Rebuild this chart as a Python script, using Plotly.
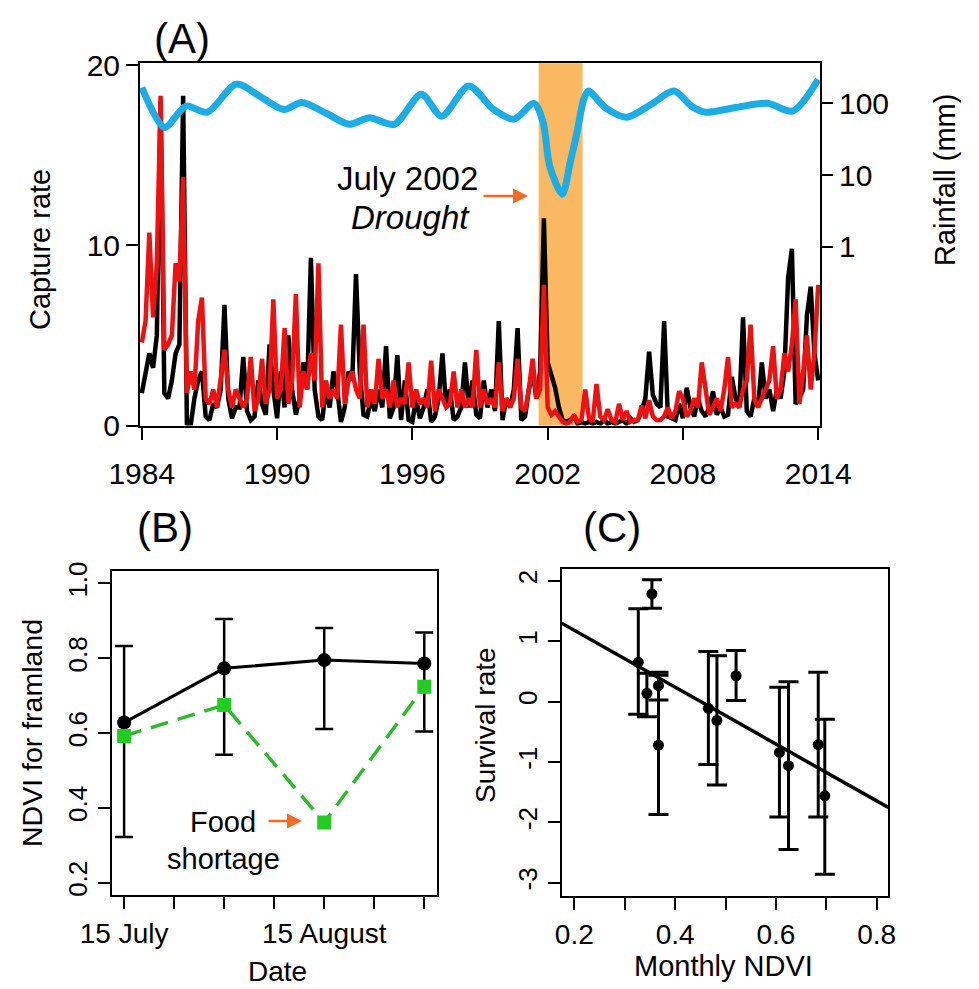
import plotly.graph_objects as go
import numpy as np

# ---------------- DATA ----------------
# Panel A: capture rate, bimonthly samples per year (Jan, Mar, May, Jul, Sep, Nov)
start_year = 1984
observed_by_year = [
    [1.8, 3.0, 4.0, 3.2, 5.0, 18.0],   # 1984
    [1.8, 1.5, 2.5, 4.0, 4.5, 18.3],   # 1985
    [0.1, 0.0, 1.5, 2.5, 3.0, 0.5],    # 1986
    [0.3, 1.2, 1.0, 2.0, 6.7, 1.5],    # 1987
    [0.4, 1.0, 1.0, 3.8, 0.8, 0.3],    # 1988
    [0.5, 2.5, 1.2, 0.6, 4.5, 2.0],    # 1989
    [0.4, 3.0, 1.0, 5.0, 2.0, 0.6],    # 1990
    [1.5, 3.5, 2.0, 9.3, 2.0, 0.5],    # 1991
    [0.3, 2.0, 1.0, 3.0, 2.0, 0.2],    # 1992
    [1.0, 3.0, 2.5, 8.4, 3.0, 0.6],    # 1993
    [0.5, 1.5, 0.8, 2.0, 1.0, 4.4],    # 1994
    [0.4, 1.0, 3.9, 0.3, 2.5, 0.3],    # 1995
    [0.2, 1.5, 0.4, 1.0, 2.0, 0.2],    # 1996
    [0.5, 1.5, 4.0, 1.0, 2.0, 0.3],    # 1997
    [0.5, 1.0, 3.5, 1.0, 2.5, 0.6],    # 1998
    [0.4, 2.5, 1.0, 2.0, 0.8, 5.8],    # 1999
    [0.3, 1.5, 1.0, 2.0, 5.4, 0.3],    # 2000
    [0.5, 2.0, 3.0, 1.5, 3.0, 11.5],   # 2001
    [3.5, 2.8, 2.1, 1.0, 0.3, 0.2],    # 2002
    [0.3, 0.5, 0.1, 0.2, 0.1, 0.2],    # 2003
    [0.1, 0.2, 0.1, 0.3, 0.1, 0.2],    # 2004
    [0.1, 0.2, 0.3, 0.1, 0.4, 0.2],    # 2005
    [0.3, 0.8, 1.5, 4.1, 1.7, 1.2],    # 2006
    [1.0, 5.8, 0.5, 0.4, 0.3, 1.2],    # 2007
    [0.4, 2.1, 1.0, 0.5, 1.5, 0.8],    # 2008
    [0.5, 1.0, 1.9, 0.6, 1.0, 0.5],    # 2009
    [0.6, 2.7, 1.5, 1.0, 6.0, 0.8],    # 2010
    [0.5, 1.5, 1.0, 3.5, 1.5, 2.0],    # 2011
    [0.8, 2.0, 1.5, 3.0, 8.2, 9.8],    # 2012
    [1.2, 1.5, 2.0, 6.1, 7.7, 4.0],    # 2013
    [2.5],                             # 2014
]
predicted_by_year = [
    [4.6, 5.8, 10.7, 6.0, 9.0, 18.3],  # 1984
    [4.2, 4.5, 5.0, 9.0, 8.0, 13.8],   # 1985
    [1.8, 3.0, 2.0, 5.8, 7.1, 1.5],    # 1986
    [1.2, 2.0, 1.0, 2.5, 4.2, 2.0],    # 1987
    [1.0, 2.0, 1.5, 1.0, 1.5, 3.8],    # 1988
    [0.8, 1.5, 3.7, 1.2, 2.0, 7.0],    # 1989
    [1.5, 2.0, 5.4, 1.2, 2.5, 7.3],    # 1990
    [1.0, 3.0, 2.0, 4.0, 2.5, 9.0],    # 1991
    [1.0, 2.5, 1.5, 2.0, 1.5, 5.6],    # 1992
    [1.2, 2.5, 3.0, 2.0, 1.5, 5.6],    # 1993
    [1.0, 2.0, 1.2, 3.7, 1.5, 2.0],    # 1994
    [1.0, 2.5, 1.0, 1.5, 1.2, 3.5],    # 1995
    [1.0, 2.0, 1.2, 1.5, 1.0, 3.6],    # 1996
    [0.8, 2.0, 1.5, 1.0, 1.2, 3.0],    # 1997
    [1.0, 2.0, 1.0, 1.5, 1.0, 4.2],    # 1998
    [1.0, 2.0, 1.2, 1.5, 1.0, 3.5],    # 1999
    [0.8, 1.5, 1.0, 1.5, 3.7, 1.0],    # 2000
    [0.8, 2.0, 3.7, 1.5, 2.0, 7.8],    # 2001
    [1.0, 0.6, 0.8, 0.5, 0.2, 0.1],    # 2002
    [0.2, 0.6, 0.2, 0.3, 2.0, 0.4],    # 2003
    [0.2, 2.3, 0.5, 0.3, 0.9, 0.3],    # 2004
    [0.2, 1.2, 0.3, 0.8, 0.2, 0.3],    # 2005
    [0.3, 1.1, 0.4, 1.4, 0.5, 0.3],    # 2006
    [0.3, 0.5, 1.0, 0.4, 0.8, 1.9],    # 2007
    [1.5, 0.5, 0.8, 1.5, 1.0, 3.5],    # 2008
    [2.0, 0.6, 1.0, 1.5, 0.8, 2.0],    # 2009
    [3.8, 1.0, 1.2, 1.0, 2.0, 2.5],    # 2010
    [5.6, 1.5, 1.0, 1.5, 2.0, 2.5],    # 2011
    [4.4, 1.5, 2.0, 4.0, 3.0, 4.5],    # 2012
    [7.0, 1.2, 3.0, 5.0, 2.0, 4.0],    # 2013
    [7.8],                             # 2014
]
rain_years = [1984.0, 1985.0, 1985.7, 1986.0, 1986.9, 1988.2, 1989.3, 1990.3,
              1991.1, 1992.2, 1993.2, 1994.1, 1995.2, 1996.4, 1997.3, 1998.5,
              1999.6, 2000.5, 2001.4, 2001.8, 2002.1, 2002.65, 2003.0, 2003.3,
              2003.6, 2003.8, 2004.6, 2005.5, 2006.6, 2007.6, 2008.4, 2009.0,
              2010.4, 2011.75, 2012.87, 2014.0]
rain_mm = [166, 46, 78, 92, 75, 185, 121, 82,
           103, 72, 51, 63, 51, 134, 66, 175,
           82, 60, 100, 54, 13, 5.4, 15, 39,
           113, 148, 85, 64, 97, 148, 90, 75,
           88, 100, 78, 215]
drought_start, drought_end = 2001.6, 2003.55
year_ticks = [1984, 1990, 1996, 2002, 2008, 2014]

# Panel B: NDVI for farmland
b_dates = [1, 2, 3, 4]
b_tick_vals = [1, 1.5, 2, 2.5, 3, 3.5, 4]
b_tick_text = ["15 July", "", "", "", "15 August", "", ""]
ndvi_mean = [0.628, 0.773, 0.795, 0.786]
ndvi_upper = [0.833, 0.905, 0.881, 0.869]
ndvi_lower = [0.322, 0.542, 0.611, 0.604]
ndvi_2002 = [0.592, 0.675, 0.361, 0.724]

# Panel C: survival rate vs monthly NDVI
c_ndvi = [0.327, 0.354, 0.344, 0.367, 0.367, 0.466, 0.483, 0.521, 0.607, 0.625, 0.684, 0.697]
c_surv = [0.653, 1.786, 0.139, 0.265, -0.72, -0.11, -0.31, 0.43, -0.84, -1.06, -0.71, -1.56]
c_upper = [1.54, 2.02, 0.47, 0.49, 0.44, 0.83, 0.76, 0.85, 0.24, 0.33, 0.49, -0.29]
c_lower = [-0.21, 1.55, -0.25, 0.03, -1.87, -1.04, -1.38, 0.02, -1.91, -2.45, -1.91, -2.86]
c_yticks = [-3, -2, -1, 0, 1, 2]
fit_intercept, fit_slope = 2.124, -4.71

# ---------------- BUILD ----------------
W, H = 979, 989
def fx(p): return p / W
def fy(p): return 1 - p / H

FONT = "Liberation Sans, Arial, sans-serif"
observed = [v for yr in observed_by_year for v in yr]
predicted = [v for yr in predicted_by_year for v in yr]
t_obs = [start_year + i / 6 for i in range(len(observed))]
t_pred = [start_year + i / 6 for i in range(len(predicted))]

fig = go.Figure()

# Panel A
fig.add_trace(go.Scatter(x=t_obs, y=observed, mode="lines",
                         line=dict(color="black", width=4.5), xaxis="x", yaxis="y"))
fig.add_trace(go.Scatter(x=t_pred, y=predicted, mode="lines",
                         line=dict(color="#ee1111", width=4.5), xaxis="x", yaxis="y"))
fig.add_trace(go.Scatter(x=rain_years, y=rain_mm, mode="lines",
                         line=dict(color="#1badE4", width=7, shape="spline", smoothing=0.8),
                         xaxis="x", yaxis="y2"))

# Panel B
err_plus = [u - m for u, m in zip(ndvi_upper, ndvi_mean)]
err_minus = [m - l for m, l in zip(ndvi_mean, ndvi_lower)]
fig.add_trace(go.Scatter(x=b_dates, y=ndvi_mean, mode="lines+markers",
                         line=dict(color="black", width=3),
                         marker=dict(color="black", size=14, symbol="circle"),
                         error_y=dict(type="data", array=err_plus, arrayminus=err_minus,
                                      color="black", thickness=2.5, width=9),
                         xaxis="x2", yaxis="y3"))
fig.add_trace(go.Scatter(x=b_dates, y=ndvi_2002, mode="lines+markers",
                         line=dict(color="#2dbb2d", width=3.5, dash="18px,10px"),
                         marker=dict(color="#22cc22", size=14, symbol="square"),
                         xaxis="x2", yaxis="y3"))

# Panel C
c_plus = [u - m for u, m in zip(c_upper, c_surv)]
c_minus = [m - l for m, l in zip(c_surv, c_lower)]
fig.add_trace(go.Scatter(x=c_ndvi, y=c_surv, mode="markers",
                         marker=dict(color="black", size=11),
                         error_y=dict(type="data", array=c_plus, arrayminus=c_minus,
                                      color="black", thickness=3, width=10),
                         xaxis="x3", yaxis="y4"))
cx_range = [0.175, 0.823]
fit_x = np.array(cx_range)
fig.add_trace(go.Scatter(x=fit_x, y=fit_intercept + fit_slope * fit_x, mode="lines",
                         line=dict(color="black", width=3.5), xaxis="x3", yaxis="y4"))

axis_common = dict(showline=True, linecolor="black", linewidth=2, mirror=True,
                   ticks="outside", ticklen=12, tickwidth=2, tickcolor="black",
                   showgrid=False, zeroline=False, automargin=False)

fig.update_layout(
    template="none",
    width=W, height=H, margin=dict(l=0, r=0, t=0, b=0, pad=0), autosize=False,
    paper_bgcolor="white", plot_bgcolor="white", showlegend=False,
    font=dict(family=FONT, color="black", size=28),
    xaxis=dict(domain=[fx(140), fx(820)], anchor="y", range=[1983.92, 2014.08],
               tickvals=year_ticks, tickfont=dict(size=30), ticklabelstandoff=8,
               **axis_common),
    yaxis=dict(domain=[fy(425.5), fy(63.3)], anchor="x", range=[0, 20.1],
               tickvals=[0, 10, 20], tickfont=dict(size=30), **axis_common),
    yaxis2=dict(overlaying="y", side="right", anchor="x", type="log",
                range=[-2.494, 2.558], tickvals=[1, 10, 100], ticktext=["1", "10", "100"],
                showline=False, ticks="outside", ticklen=12, tickwidth=2, tickcolor="black",
                showgrid=False, zeroline=False, automargin=False, tickfont=dict(size=30)),
    xaxis2=dict(domain=[fx(111.7), fx(436.7)], anchor="y3", range=[0.876, 4.124],
                tickvals=b_tick_vals, ticktext=b_tick_text, tickfont=dict(size=28),
                **axis_common),
    yaxis3=dict(domain=[fy(895), fy(570.7)], anchor="x2", range=[0.167, 1.034],
                tickvals=[0.2, 0.4, 0.6, 0.8, 1.0], ticktext=["0.2", "0.4", "0.6", "0.8", "1.0"],
                tickangle=-90, tickfont=dict(size=26), **axis_common),
    xaxis3=dict(domain=[fx(561.7), fx(888.3)], anchor="y4", range=cx_range,
                tickvals=[0.2, 0.3, 0.4, 0.5, 0.6, 0.7, 0.8],
                ticktext=["0.2", "", "0.4", "", "0.6", "", "0.8"],
                tickfont=dict(size=28), **axis_common),
    yaxis4=dict(domain=[fy(896), fy(569.3)], anchor="x3", range=[-3.22, 2.194],
                tickvals=c_yticks, ticktext=[str(v) for v in c_yticks],
                tickangle=-90, tickfont=dict(size=26), **axis_common),
)

fig.add_shape(type="rect", xref="x", yref="y domain", x0=drought_start, x1=drought_end,
              y0=0, y1=1, fillcolor="#f9b861", line=dict(width=0), layer="below")

ann = []
def txt(x, y, s, size=28, angle=0, **kw):
    ann.append(dict(x=fx(x), y=fy(y), xref="paper", yref="paper", text=s, showarrow=False,
                    textangle=angle, font=dict(size=size, family=FONT, color="black"),
                    xanchor="center", yanchor="middle", **kw))

txt(182, 38, "(A)", size=42)
txt(165, 527, "(B)", size=42)
txt(612, 527, "(C)", size=42)
txt(40, 250, "Capture rate", angle=-90, size=29)
txt(945, 180, "Rainfall (mm)", angle=-90, size=29)
txt(407, 178, "July 2002", size=33)
txt(410, 217, "<i>Drought</i>", size=33)
txt(32, 733, "NDVI for framland", angle=-90, size=28.5)
txt(277, 971, "Date")
txt(223, 822, "Food", size=29)
txt(223, 859, "shortage", size=29)
txt(485, 725, "Survival rate", angle=-90)
txt(723, 966, "Monthly NDVI", size=29)

for (x_tip, x_tail, yy) in [(528, 482, 196), (302, 267, 821)]:
    ann.append(dict(x=fx(x_tip), y=fy(yy), xref="paper", yref="paper", ax=x_tail - x_tip, ay=0,
                    showarrow=True, arrowhead=2, arrowsize=1.2, arrowwidth=2.5,
                    arrowcolor="#f26b21", text=""))
fig.update_layout(annotations=ann)

fig.write_html("out.html", config={"displayModeBar": False},
               post_script="document.body.style.margin='0';document.body.style.overflow='hidden';")
